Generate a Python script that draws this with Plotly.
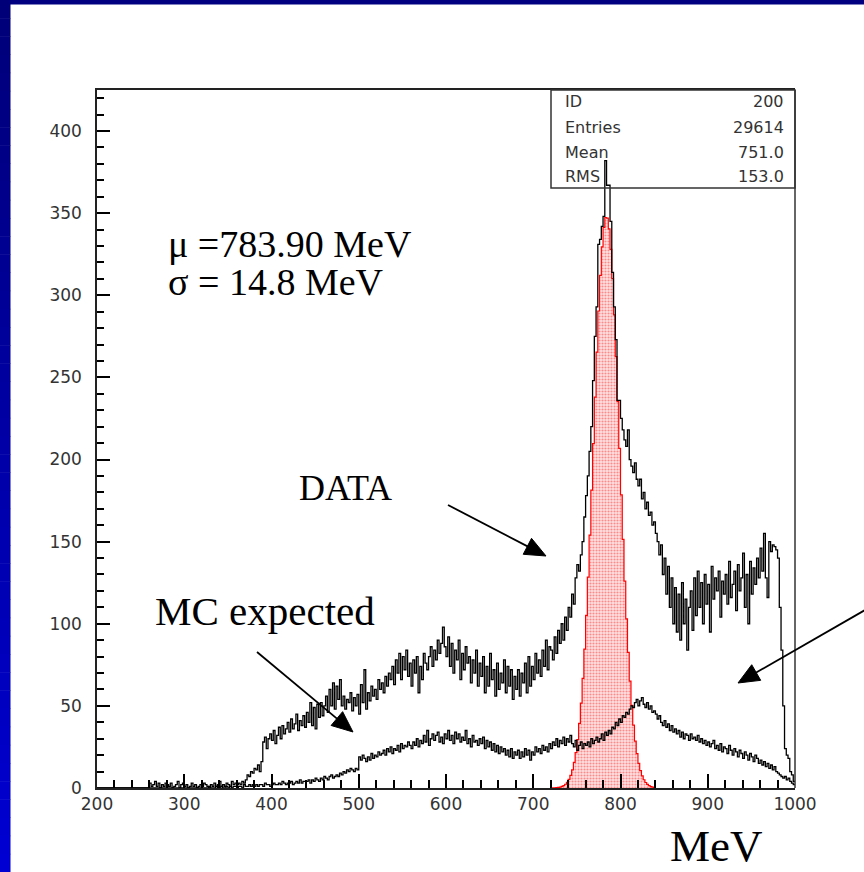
import math
import plotly.graph_objects as go

# ---------------------------------------------------------------------------
# Histogram binning (2 MeV bins from 200 to 1000 MeV)
# ---------------------------------------------------------------------------
LO, HI, BW = 200, 1000, 2
edges = list(range(LO, HI + BW, BW))

# Measured invariant-mass spectrum (counts per 2 MeV bin), 40 MeV per row
data_counts = [
    0, 0, 0, 0, 0, 0, 0, 0, 0, 0, 0, 0, 0, 0, 0, 0, 0, 0, 0, 0,                          # 200
    0, 0, 0, 0, 0, 0, 0, 0, 0, 0, 3, 1, 2, 4, 1, 3, 0, 2, 1, 3,                          # 240
    2, 1, 3, 0, 1, 2, 4, 0, 2, 3, 1, 2, 0, 1, 3, 1, 2, 0, 1, 2,                          # 280
    1, 3, 2, 1, 0, 2, 1, 3, 1, 2, 4, 1, 2, 1, 3, 2, 1, 4, 2, 3,                          # 320
    2, 3, 2, 4, 3, 5, 8, 7, 10, 9, 12, 11, 14, 10, 16, 28, 31, 24, 30, 33,               # 360
    29, 35, 27, 32, 37, 30, 38, 33, 36, 40, 34, 42, 36, 39, 45, 35, 41, 38, 44, 37,      # 400
    46, 40, 52, 38, 49, 36, 51, 43, 52, 44, 50, 56, 46, 60, 50, 64, 48, 62, 54, 66,      # 440
    50, 56, 48, 54, 52, 58, 47, 55, 50, 57, 45, 63, 52, 72, 48, 58, 53, 62, 56, 60,      # 480
    54, 66, 60, 64, 58, 68, 62, 70, 66, 74, 63, 78, 70, 82, 66, 80, 72, 84, 68, 76,      # 520
    62, 78, 70, 80, 58, 74, 66, 82, 76, 72, 80, 86, 74, 84, 78, 90, 82, 88, 98, 86,      # 560
    80, 92, 74, 88, 70, 84, 78, 90, 66, 82, 72, 86, 76, 80, 64, 78, 70, 84, 62, 76,      # 600
    68, 80, 58, 74, 62, 82, 66, 72, 56, 76, 60, 70, 64, 78, 58, 74, 62, 72, 54, 68,      # 640
    60, 72, 56, 70, 64, 76, 58, 80, 62, 74, 66, 82, 70, 78, 68, 84, 74, 90, 72, 86,      # 680
    84, 78, 92, 82, 96, 88, 100, 90, 104, 96, 110, 104, 118, 112, 128, 136, 132, 142, 150, 165,   # 720
    178, 190, 205, 220, 248, 275, 293, 331, 334, 342, 348, 382, 367, 367, 345, 314, 293, 273, 236, 236,  # 760
    225, 218, 212, 208, 218, 200, 196, 192, 198, 188, 184, 188, 176, 180, 170, 174, 166, 168, 160, 162,  # 800
    155, 150, 142, 148, 130, 140, 118, 135, 110, 128, 100, 122, 95, 118, 90, 125, 100, 115, 84, 110,    # 840
    120, 96, 128, 105, 132, 110, 125, 100, 130, 112, 124, 95, 135, 115, 128, 120, 132, 104, 126, 118,   # 880
    130, 112, 138, 116, 124, 132, 108, 136, 120, 128, 143, 110, 130, 100, 138, 118, 134, 124, 140, 128, # 920
    146, 132, 155, 128, 116, 150, 144, 148, 147, 145, 140, 110, 84, 50, 24, 20, 18, 10, 8, 4,          # 960
]

# Monte Carlo expectation (counts per 2 MeV bin)
mc_counts = [
    0, 0, 0, 0, 0, 0, 0, 0, 0, 0, 0, 0, 0, 0, 0, 0, 0, 0, 0, 0,                          # 200
    0, 0, 0, 0, 0, 0, 0, 0, 0, 0, 0, 0, 0, 0, 0, 0, 0, 0, 0, 0,                          # 240
    0, 0, 0, 0, 0, 0, 0, 0, 0, 0, 0, 0, 0, 0, 0, 0, 0, 0, 0, 0,                          # 280
    0, 0, 0, 0, 1, 0, 0, 0, 1, 0, 0, 1, 0, 0, 1, 0, 1, 0, 1, 1,                          # 320
    0, 1, 1, 0, 2, 1, 1, 2, 1, 2, 1, 2, 1, 2, 2, 1, 3, 2, 2, 1,                          # 360
    2, 3, 2, 2, 3, 2, 4, 3, 2, 3, 3, 4, 2, 3, 4, 3, 5, 3, 4, 4,                          # 400
    4, 5, 3, 5, 4, 6, 5, 4, 6, 5, 7, 6, 5, 7, 8, 6, 7, 8, 7, 9,                          # 440
    8, 10, 9, 11, 10, 12, 11, 10, 12, 11, 19, 17, 20, 18, 16, 19, 17, 21, 18, 20,        # 480
    19, 22, 20, 21, 23, 20, 24, 22, 25, 21, 24, 23, 26, 22, 27, 24, 26, 25, 28, 26,      # 520
    24, 28, 26, 30, 25, 29, 27, 32, 28, 35, 26, 30, 33, 29, 32, 34, 28, 31, 27, 33,      # 560
    30, 35, 29, 32, 27, 34, 30, 33, 28, 31, 29, 35, 27, 30, 25, 32, 28, 29, 26, 30,      # 600
    27, 31, 24, 29, 25, 28, 23, 27, 22, 26, 21, 25, 22, 24, 20, 23, 19, 24, 18, 22,      # 640
    20, 23, 18, 22, 19, 24, 20, 23, 17, 22, 20, 25, 22, 24, 21, 26, 23, 25, 22, 27,      # 680
    24, 28, 26, 30, 25, 29, 27, 31, 26, 30, 28, 32, 27, 25, 29, 23, 26, 28, 24, 27,      # 720
    26, 28, 25, 30, 27, 29, 31, 28, 30, 33, 29, 34, 32, 35, 33, 37, 36, 40, 38, 42,      # 760
    40, 44, 43, 46, 45, 48, 50, 49, 52, 54, 50, 53, 55, 51, 49, 52, 48, 50, 46, 47,      # 800
    45, 42, 44, 40, 38, 41, 37, 39, 35, 38, 34, 36, 33, 35, 31, 34, 30, 33, 32, 29,      # 840
    33, 30, 31, 29, 32, 28, 30, 27, 29, 26, 28, 25, 27, 29, 24, 26, 23, 27, 22, 25,      # 880
    24, 21, 26, 23, 20, 24, 22, 19, 23, 21, 18, 22, 20, 17, 21, 19, 16, 20, 18, 15,      # 920
    17, 14, 16, 13, 15, 12, 14, 11, 13, 10, 9, 8, 7, 6, 7, 5, 6, 4, 3, 2,                # 960
]

# Gaussian fit of the omega peak
MU = 783.90
SIGMA = 14.8
FIT_AMP = 348
FIT_LO, FIT_HI = 720, 840

# Statistics box
stat_labels = ["ID", "Entries", "Mean", "RMS"]
stat_values = ["200", "29614", "751.0", "153.0"]

X_RANGE = [LO, HI]
Y_RANGE = [0, 425]

# ---------------------------------------------------------------------------
# Page geometry
# ---------------------------------------------------------------------------
W, H = 864, 872
ML, MR, MT, MB = 97, 69, 90, 84
PW, PH = W - ML - MR, H - MT - MB


def px2x(px):
    return (px - ML) / PW


def py2y(py):
    return (H - MB - py) / PH


def step_xy(lo_edges, counts):
    return list(lo_edges), list(counts) + [counts[-1]]


fig = go.Figure()

# Gaussian fit, drawn as a filled step curve
fit_edges = list(range(FIT_LO, FIT_HI + BW, BW))
fit_vals = [FIT_AMP * math.exp(-0.5 * ((e + BW / 2 - MU) / SIGMA) ** 2) for e in fit_edges[:-1]]
fx, fy = step_xy(fit_edges, fit_vals)
fig.add_trace(go.Scatter(
    x=fx, y=fy, mode="lines", line=dict(color="#ff0000", width=1.2, shape="hv"),
    fill="tozeroy", fillcolor="rgba(255,150,150,0.55)",
    fillpattern=dict(shape=".", fgcolor="#ff3030", bgcolor="#ffe2e2", size=3, solidity=0.4),
    hoverinfo="skip",
))

# MC expectation
mx, my = step_xy(edges, mc_counts)
fig.add_trace(go.Scatter(x=mx, y=my, mode="lines",
                         line=dict(color="black", width=1.3, shape="hv"), hoverinfo="skip"))

# Data
dx, dy = step_xy(edges, data_counts)
fig.add_trace(go.Scatter(x=dx, y=dy, mode="lines",
                         line=dict(color="black", width=1.3, shape="hv"), hoverinfo="skip"))

shapes = []

# Blue slide frame: dark band at top, gradient strip on the left
shapes.append(dict(type="rect", xref="paper", yref="paper",
                   x0=px2x(0), x1=px2x(W), y0=py2y(0), y1=py2y(4.5),
                   fillcolor="#000080", line=dict(width=0)))
N_STRIPS = 48
for i in range(N_STRIPS):
    t = i / (N_STRIPS - 1)
    b = int(round(120 + t * 90))
    y0 = H * i / N_STRIPS
    y1 = H * (i + 1) / N_STRIPS + 0.5
    shapes.append(dict(type="rect", xref="paper", yref="paper",
                       x0=px2x(0), x1=px2x(10.5), y0=py2y(y0), y1=py2y(y1),
                       fillcolor=f"rgb(0,0,{b})", line=dict(width=0)))

# Right edge of the frame
shapes.append(dict(type="line", xref="paper", yref="paper", x0=1, x1=1, y0=0, y1=1,
                   line=dict(color="#333333", width=1.5)))

# Statistics box outline
BOX_L, BOX_B = 551, 188
shapes.append(dict(type="rect", xref="paper", yref="paper",
                   x0=px2x(BOX_L), x1=1.0, y0=py2y(BOX_B), y1=1.0,
                   line=dict(color="#333333", width=1.5), fillcolor="rgba(0,0,0,0)"))


def arrow(start, tip, head_len=21, head_half=9):
    sx, sy = start
    tx, ty = tip
    L = math.hypot(tx - sx, ty - sy)
    ux, uy = (tx - sx) / L, (ty - sy) / L
    nx, ny = -uy, ux
    bx, by = tx - head_len * ux, ty - head_len * uy
    line = dict(type="line", xref="paper", yref="paper",
                x0=px2x(sx), y0=py2y(sy), x1=px2x(bx + 4 * ux), y1=py2y(by + 4 * uy),
                line=dict(color="black", width=1.8))
    pts = [(tx, ty), (bx + head_half * nx, by + head_half * ny), (bx - head_half * nx, by - head_half * ny)]
    path = "M " + " L ".join(f"{px2x(a):.5f},{py2y(b):.5f}" for a, b in pts) + " Z"
    head = dict(type="path", xref="paper", yref="paper", path=path,
                fillcolor="black", line=dict(color="black", width=1))
    return [line, head]


shapes += arrow((257, 652), (353, 732))
shapes += arrow((448, 505), (546, 556))
shapes += arrow((872, 606), (738, 683))

annotations = []
SERIF = "Liberation Serif, Times New Roman, serif"
SANS = "DejaVu Sans, sans-serif"


def text(px, py, s, size, xanchor="left", font=SERIF, color="black"):
    annotations.append(dict(xref="paper", yref="paper", x=px2x(px), y=py2y(py), text=s,
                            showarrow=False, xanchor=xanchor, yanchor="middle",
                            font=dict(family=font, size=size, color=color)))


text(166, 244, "μ =783.90 MeV", 38)
text(166, 282, "σ = 14.8 MeV", 38)
text(345, 488, "DATA", 36, xanchor="center")
text(265, 611, "MC expected", 41, xanchor="center")
text(716, 846, "MeV", 45, xanchor="center")

row_y = [102, 127, 152, 176]
for lab, val, yy in zip(stat_labels, stat_values, row_y):
    text(563, yy, lab, 16, font=SANS, color="#333333")
    text(786, yy, val, 16, xanchor="right", font=SANS, color="#333333")

TICK_FONT = dict(family=SANS, size=17, color="#333333")

fig.update_layout(
    width=W, height=H,
    margin=dict(l=ML, r=MR, t=MT, b=MB),
    paper_bgcolor="white", plot_bgcolor="white",
    showlegend=False,
    shapes=shapes, annotations=annotations,
    xaxis=dict(range=X_RANGE, dtick=100, ticks="inside", ticklen=14, tickcolor="black", tickwidth=1.5,
               showline=True, linecolor="#222222", linewidth=1.5, mirror=True,
               showgrid=False, zeroline=False, tickfont=TICK_FONT,
               minor=dict(ticks="inside", ticklen=8, dtick=20, tickcolor="black", tickwidth=1.5)),
    yaxis=dict(range=Y_RANGE, dtick=50, ticks="inside", ticklen=13, tickcolor="black", tickwidth=1.5,
               showline=True, linecolor="#222222", linewidth=1.5,
               showgrid=False, zeroline=False, tickfont=TICK_FONT, ticklabelstandoff=10,
               minor=dict(ticks="inside", ticklen=7, dtick=10, tickcolor="black", tickwidth=1.5)),
)

fig.write_html("out.html")
